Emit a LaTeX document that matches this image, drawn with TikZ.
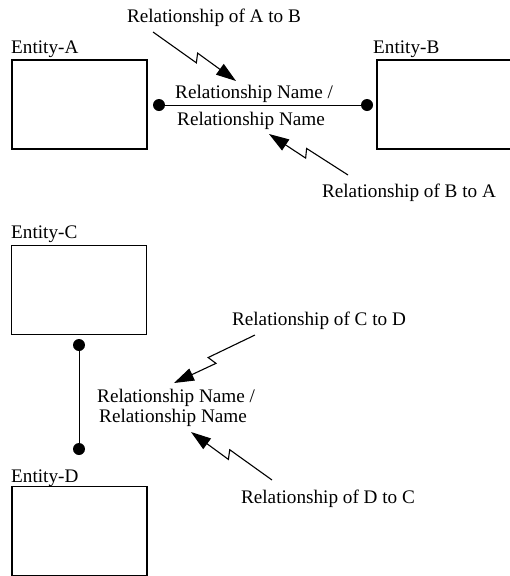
\documentclass[tikz,border=0pt]{standalone}
\usepackage{fontspec}
\setmainfont{Liberation Serif}
\usetikzlibrary{calc,arrows.meta,positioning}
\tikzset{
  entity/.style={draw,line width=1.3pt,minimum width=135pt,minimum height=89pt,inner sep=0pt},
  ename/.style={anchor=base west,inner sep=0pt},
  rname/.style={anchor=base west,inner sep=0pt},
  dot/.style={circle,fill,inner sep=0pt,minimum size=12pt},
  link/.style={line width=0.9pt},
  bolt/.style={
    line width=1.1pt,-{Triangle[length=20pt,width=13pt]},
    to path={-- ($(\tikztostart)!0.55!(\tikztotarget)!4.5pt!-90:(\tikztotarget)$)
             -- ($(\tikztostart)!0.51!(\tikztotarget)!4.5pt!90:(\tikztotarget)$)
             -- (\tikztotarget) \tikztonodes}
  }
}
\begin{document}
\begin{tikzpicture}[x=1pt,y=-1pt,font=\fontsize{19.2}{20}\selectfont]
\useasboundingbox (0,0) rectangle (510,576);
% entities
\node[entity] (A) at (79.5,104.5) {};
\node[entity,minimum width=140pt] (B) at (447,104.5) {};
\node[entity] (C) at (79,290) {};
\node[entity] (D) at (79.5,531) {};
\node[ename] (nameA) at (11,53) {Entity-A};
\node[ename] (nameB) at (373,53) {Entity-B};
\node[ename] (nameC) at (11,238) {Entity-C};
\node[ename] (nameD) at (11,482) {Entity-D};
% A -- B
\node[dot] (dA) at (159,105) {};
\node[dot] (dB) at (367,105) {};
\draw[link] (dA) -- (dB);
\node[rname] (rAB1) at (175,98) {Relationship Name /};
\node[rname] (rAB2) at (177,125) {Relationship Name};
\node[anchor=base,inner sep=0pt] (lAB) at (214,22) {Relationship of A to B};
\node[anchor=base,inner sep=0pt] (lBA) at (409,197) {Relationship of B to A};
\coordinate (tAB) at (153,32);
\coordinate (hAB) at (236,81);
\coordinate (tBA) at (348,175);
\coordinate (hBA) at (269,134);
\draw[bolt] (tAB) to (hAB);
\draw[bolt] (tBA) to (hBA);
% C -- D
\node[dot] (dC) at (79,345) {};
\node[dot] (dD) at (79,449) {};
\draw[link] (dC) -- (dD);
\node[rname] (rCD1) at (97,402) {Relationship Name /};
\node[rname] (rCD2) at (99,422) {Relationship Name};
\node[anchor=base,inner sep=0pt] (lCD) at (319,325) {Relationship of C to D};
\node[anchor=base,inner sep=0pt] (lDC) at (328,503) {Relationship of D to C};
\coordinate (tCD) at (255,335);
\coordinate (hCD) at (174,383);
\coordinate (tDC) at (272,480);
\coordinate (hDC) at (191,432);
\draw[bolt] (tCD) to (hCD);
\draw[bolt] (tDC) to (hDC);
\end{tikzpicture}
\end{document}
